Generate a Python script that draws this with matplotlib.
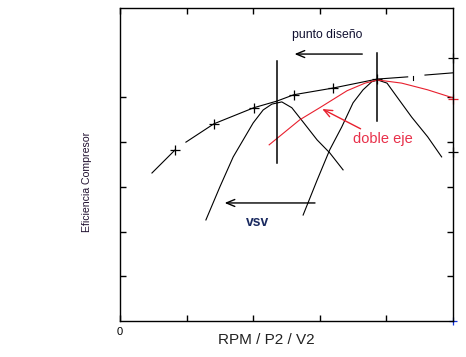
import matplotlib.pyplot as plt

plt.rcParams['font.family'] = ['Liberation Sans', 'DejaVu Sans']

# envelope (black, with + markers), split where the line has gaps
env_x1 = [0.48, 0.83]
env_y1 = [3.31, 3.83]
env_x2 = [0.99, 1.41, 2.01, 2.36, 2.61, 3.20, 3.86, 4.32]
env_y2 = [4.00, 4.41, 4.77, 4.92, 5.06, 5.21, 5.41, 5.46]
env_x3 = [4.58, 5.00]
env_y3 = [5.50, 5.55]
mark_x = [0.83, 1.41, 2.01, 2.61, 3.20, 3.86]
mark_y = [3.83, 4.41, 4.77, 5.06, 5.21, 5.41]

# speed lines
low_x = [1.29, 1.50, 1.70, 1.85, 2.00, 2.15, 2.28, 2.43, 2.58, 2.75, 2.96, 3.15, 3.35]
low_y = [2.26, 3.00, 3.67, 4.05, 4.43, 4.72, 4.85, 4.90, 4.77, 4.45, 4.05, 3.76, 3.38]
high_x = [2.75, 2.96, 3.15, 3.33, 3.50, 3.65, 3.78, 3.87, 4.01, 4.17, 4.38, 4.62, 4.83]
high_y = [2.37, 3.15, 3.83, 4.34, 4.88, 5.17, 5.35, 5.39, 5.32, 4.99, 4.56, 4.12, 3.67]

# doble eje (red)
red_x = [2.24, 2.70, 3.00, 3.41, 3.68, 3.87, 4.23, 4.62, 5.00]
red_y = [3.94, 4.50, 4.77, 5.15, 5.32, 5.39, 5.32, 5.17, 4.99]

fig = plt.figure(figsize=(4.66, 3.57), dpi=100)
ax = fig.add_axes([0.2575, 0.1008, 0.7145, 0.8768])

ax.plot(env_x1, env_y1, color='black', lw=0.8)
ax.plot(env_x2, env_y2, color='black', lw=0.8)
ax.plot(env_x3, env_y3, color='black', lw=0.8)
ax.plot(mark_x, mark_y, '+', color='black', ms=7, mew=0.9)
ax.plot([4.40, 4.40], [5.38, 5.47], color='black', lw=0.8)

ax.plot(low_x, low_y, color='black', lw=0.8)
ax.plot(high_x, high_y, color='black', lw=0.8)
ax.plot(red_x, red_y, color='#e8202e', lw=0.8)
ax.plot([5.0], [4.97], '+', color='#e8202e', ms=7, mew=0.9, clip_on=False)

ax.plot([2.36, 2.36], [3.53, 5.81], color='black', lw=1.1)
ax.plot([3.86, 3.86], [4.47, 6.00], color='black', lw=1.1)

ax.plot([5.0, 5.0], [3.78, 5.88], '+', color='black', ms=7, mew=0.9, clip_on=False)
ax.plot([5.0], [0.0], '+', color='#1030e0', ms=6, mew=0.9, clip_on=False)

arr = dict(arrowstyle='->,head_length=0.6,head_width=0.25', color='black', lw=1.0)
ax.annotate('', xy=(2.58, 5.97), xytext=(3.68, 5.97), arrowprops=arr)
ax.annotate('', xy=(1.53, 2.64), xytext=(2.97, 2.64), arrowprops=arr)
ax.annotate('', xy=(3.00, 4.77), xytext=(3.65, 4.27),
            arrowprops=dict(arrowstyle='->,head_length=0.6,head_width=0.25',
                            color='#e8202e', lw=1.0))

ax.text(3.11, 6.40, 'punto diseño', ha='center', va='center', fontsize=8.8, color='#101030')
ax.text(3.95, 4.07, 'doble eje', ha='center', va='center', fontsize=10.5, color='#e8304a')
ax.text(2.06, 2.21, 'vsv', ha='center', va='center', fontsize=10, fontweight='bold',
        color='#1a2a60')

ax.set_xlim(0, 5)
ax.set_ylim(0, 7)
ax.set_xticks([0, 1, 2, 3, 4])
ax.set_xticklabels(['0', '', '', '', ''])
ax.set_yticks([1, 2, 3, 4, 5])
ax.set_yticklabels([])
ax.tick_params(direction='in', length=4, width=1, top=True, right=True, labelsize=8)
ax.tick_params(axis='x', pad=4)
for s in ax.spines.values():
    s.set_linewidth(1.0)

fig.text(266 / 466, 1 - 340 / 357, 'RPM / P2 / V2', ha='center', va='center',
         fontsize=11, color='#222222')
fig.text(87 / 466, 1 - 182 / 357, 'Eficiencia Compresor', rotation=90,
         ha='center', va='center', fontsize=7.6, color='#201030')

fig.savefig('out.png', dpi=100)
